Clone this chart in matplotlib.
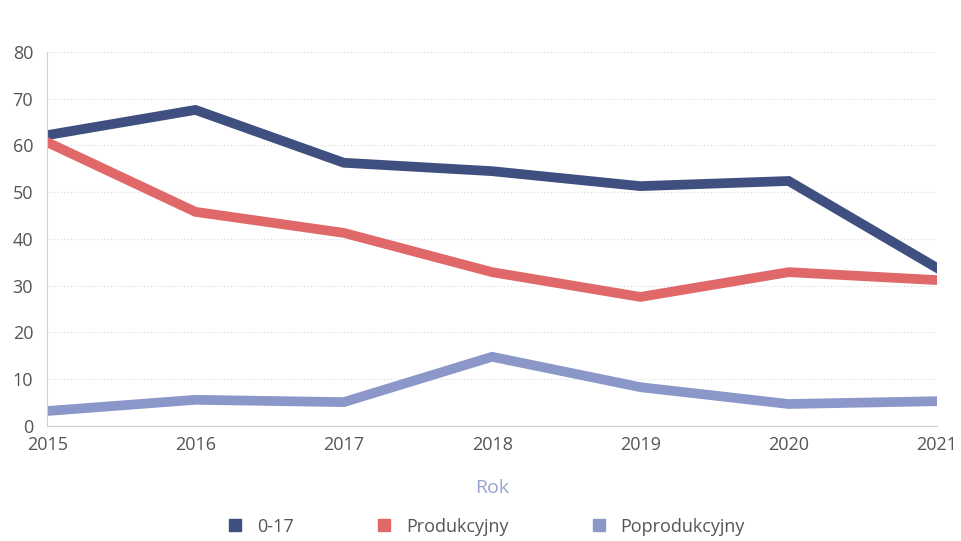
import matplotlib.pyplot as plt
from matplotlib.lines import Line2D

plt.rcParams['font.family'] = ['Open Sans', 'DejaVu Sans']

lata = [2015, 2016, 2017, 2018, 2019, 2020, 2021]
wiek_0_17 = [62.2, 67.6, 56.3, 54.5, 51.3, 52.4, 33.8]
produkcyjny = [60.7, 45.8, 41.3, 32.9, 27.6, 32.9, 31.2]
poprodukcyjny = [3.2, 5.6, 5.1, 14.8, 8.3, 4.7, 5.3]

serie = [("0-17", wiek_0_17, "#3f4f7f"),
         ("Produkcyjny", produkcyjny, "#e06868"),
         ("Poprodukcyjny", poprodukcyjny, "#8a97c8")]

fig = plt.figure(figsize=(9.62, 5.41), dpi=100)
ax = fig.add_axes([0.049, 0.2126, 0.925, 0.6914])

for nazwa, wart, kolor in serie:
    ax.plot(lata, wart, color=kolor, linewidth=7, solid_joinstyle='miter', label=nazwa)

ax.set_xlim(2015, 2021)
ax.set_ylim(0, 80)
ax.set_yticks(range(0, 81, 10))
ax.set_xticks(lata)
ax.grid(axis='y', color='#d8d8d8', linestyle=(0, (1, 2)), linewidth=0.8)
ax.set_axisbelow(True)
for s in ['top', 'right']:
    ax.spines[s].set_visible(False)
ax.spines['left'].set_color('#d0d0d0')
ax.spines['bottom'].set_color('#d0d0d0')
ax.tick_params(length=0, labelsize=13, colors='#555555', pad=7)
ax.tick_params(axis='y', pad=10)

ax.set_xlabel("Rok", fontsize=14, color='#9aa4d2', labelpad=18)

uchwyty = [Line2D([], [], marker='s', linestyle='', markersize=9, color=k) for _, _, k in serie]
fig.legend(uchwyty, [n for n, _, _ in serie], loc='lower center', bbox_to_anchor=(0.5, -0.02),
           ncol=3, frameon=False, fontsize=13, labelcolor='#555555', columnspacing=4,
           handletextpad=0.2)

fig.savefig("out.png", dpi=100, facecolor='white')
